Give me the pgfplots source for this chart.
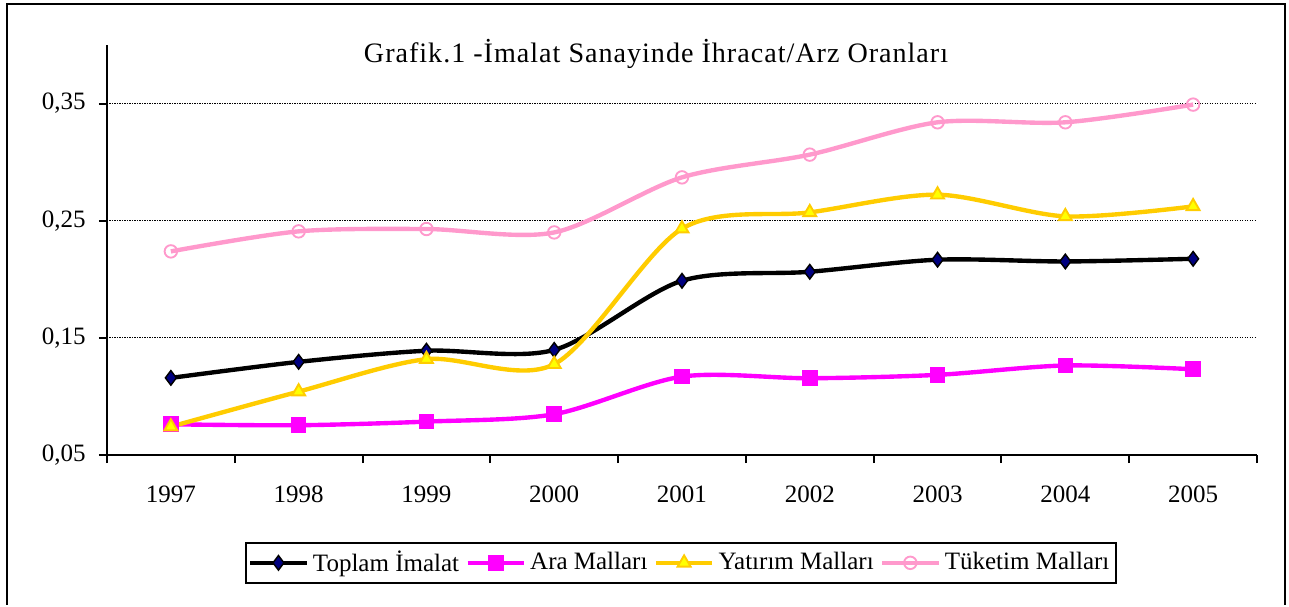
\documentclass[border=0pt]{standalone}
\usepackage{fontspec}
\setmainfont{Liberation Serif}
\usepackage{pgfplots}
\pgfplotsset{compat=1.18}
\definecolor{navyc}{HTML}{000080}
\definecolor{magc}{HTML}{FF00FF}
\definecolor{goldc}{HTML}{FFCC00}
\definecolor{yelc}{HTML}{FFFF00}
\definecolor{pinkc}{HTML}{FF99CC}
\begin{document}
\begin{tikzpicture}
\begin{axis}[
  scale only axis, width=552pt, height=196.8pt,
  clip=false,
  xmin=-0.5, xmax=8.5, ymin=0.05, ymax=0.40,
  axis lines*=left,
  axis line style={line width=1pt, black},
  every tick/.style={black, line width=1pt},
  tick align=outside,
  xtick={0,1,2,3,4,5,6,7,8},
  xticklabels={1997,1998,1999,2000,2001,2002,2003,2004,2005},
  major x tick style={draw=none},
  minor xtick={-0.5,0.5,1.5,2.5,3.5,4.5,5.5,6.5,7.5,8.5},
  minor tick length=3.9pt,
  major tick length=3.9pt,
  ytick={0.05,0.15,0.25,0.35},
  ymajorgrids,
  grid style={black, line width=0.5pt, dash pattern=on 0.6pt off 0.6pt},
  tick label style={font=\fontsize{12}{14}\selectfont},
  xticklabel style={yshift=-7.5pt},
  yticklabel style={xshift=-2.8pt},
  /pgf/number format/.cd, use comma, fixed, fixed zerofill, precision=2, assume math mode=true,
  /pgfplots/.cd,
  legend columns=4,
  legend style={at={(0.499,-0.263)}, anchor=center, draw=black, line width=1pt,
    font=\fontsize{12}{14}\selectfont, inner xsep=1pt, inner ysep=2pt,
    nodes={inner xsep=2pt},
    /tikz/every even column/.append style={column sep=1pt}},
  legend cell align=left,
  legend image code/.code={\draw[mark repeat=2,mark phase=2] plot coordinates {(0cm,0cm) (0.475cm,0cm) (0.95cm,0cm)};},
  every axis plot/.append style={line width=2.1pt, smooth},
]
\path (rel axis cs:-0.09304,-0.36585) rectangle (rel axis cs:1.02783,1.10976);
\draw[line width=1pt, line cap=butt] (rel axis cs:-0.08696,-0.36585) -- (rel axis cs:-0.08696,1.1) -- (rel axis cs:1.02435,1.1) -- (rel axis cs:1.02435,-0.36585);
\addplot[black, mark=diamond*, mark size=3.5pt, mark options={fill=navyc, draw=black, line width=0.7pt}]
  coordinates {(0,0.1158) (1,0.1295) (2,0.1390) (3,0.1397) (4,0.1987) (5,0.2064) (6,0.2167) (7,0.2152) (8,0.2175)};
\addlegendentry{Toplam İmalat}
\addplot[magc, mark=square*, mark size=3.5pt, mark options={fill=magc, draw=magc, line width=0.5pt}]
  coordinates {(0,0.0762) (1,0.0754) (2,0.0785) (3,0.0848) (4,0.1169) (5,0.1155) (6,0.1184) (7,0.1264) (8,0.1232)};
\addlegendentry{Ara Malları}
\addplot[goldc, mark=triangle*, mark size=3.6pt, mark options={fill=yelc, draw=goldc, line width=0.9pt}]
  coordinates {(0,0.0742) (1,0.1041) (2,0.1318) (3,0.1275) (4,0.2432) (5,0.2571) (6,0.2722) (7,0.2537) (8,0.2622)};
\addlegendentry{Yatırım Malları}
\addplot[pinkc, mark=o, mark size=3.0pt, mark options={draw=pinkc, line width=0.9pt, fill=white}]
  coordinates {(0,0.2238) (1,0.2409) (2,0.2429) (3,0.2400) (4,0.2870) (5,0.3064) (6,0.3340) (7,0.3340) (8,0.3491)};
\addlegendentry{Tüketim Malları}
\node[anchor=base, font=\fontsize{13.5}{16}\selectfont\addfontfeature{LetterSpace=3.5}] at (rel axis cs:0.4774,0.9585) {Grafik.1 -İmalat Sanayinde İhracat/Arz Oranları};
\end{axis}
\end{tikzpicture}
\end{document}
